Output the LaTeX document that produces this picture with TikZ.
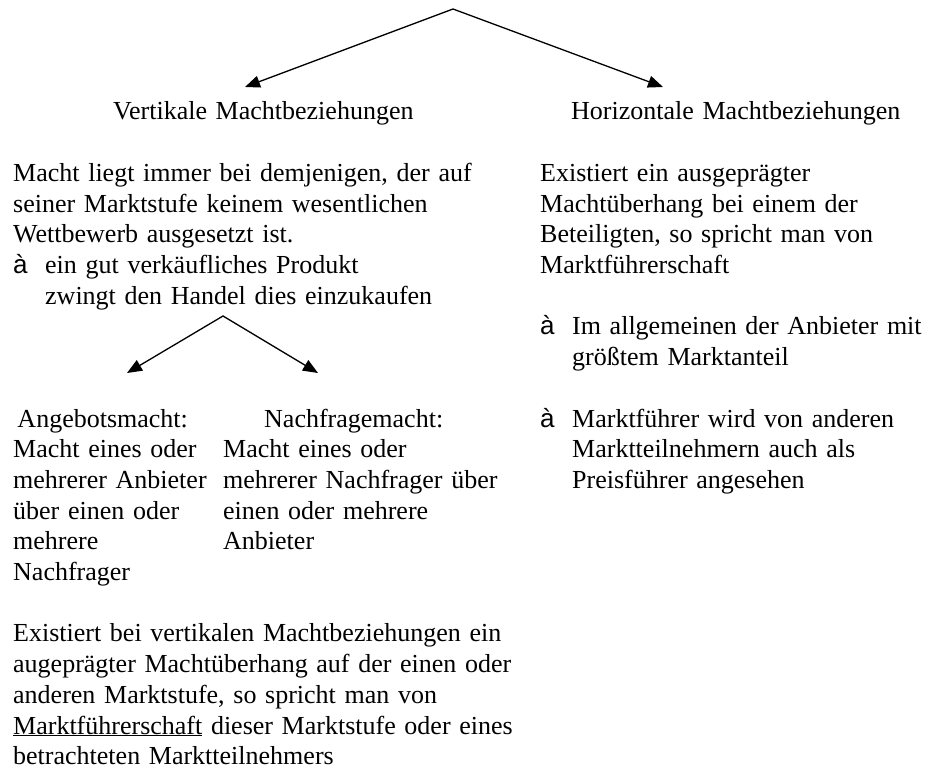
\documentclass[tikz,border=0pt]{standalone}
\usepackage{fontspec}
\setmainfont{Liberation Serif}
\newfontfamily\arrowfont{Liberation Sans}
\usetikzlibrary{positioning,arrows.meta}
\newcommand{\pfeil}{\makebox[32pt][l]{\arrowfont à}}
\newcommand{\einzug}{\hspace*{32pt}}

\begin{document}
\begin{tikzpicture}[
      x=1pt, y=-1pt,
      txt/.style={anchor=base west, inner sep=0pt, align=left, text width=560pt, font=\fontsize{26}{30.7}\selectfont},
      fork/.style={{Triangle[length=15pt, width=12pt]}-{Triangle[length=15pt, width=12pt]}, line width=1.3pt}
    ]
    \useasboundingbox (0,0) rectangle (930,768);
    % top fork
    \coordinate (top) at (453,9);
    \coordinate (vtip) at (245,87);
    \coordinate (htip) at (663,87);
    \draw[fork] (vtip) -- (top) -- (htip);
    \node[txt] (vhead) at (113,120) {Vertikale Machtbeziehungen};
    \node[txt] (hhead) at (571,120) {Horizontale Machtbeziehungen};
    % left column
    \node[txt] (vtext) at (13,181.4) {Macht liegt immer bei demjenigen, der auf\\
      seiner Marktstufe keinem wesentlichen\\
      Wettbewerb ausgesetzt ist.\\
      \pfeil ein gut verkäufliches Produkt\\
      \einzug zwingt den Handel dies einzukaufen};
    \coordinate (split) at (223,316);
    \coordinate (atip) at (127,373);
    \coordinate (ntip) at (318,373);
    \draw[fork] (atip) -- (split) -- (ntip);
    \node[txt] (angebot) at (13,427) {\makebox[179pt]{Angebotsmacht:}\\
      Macht eines oder\\
      mehrerer Anbieter\\
      über einen oder\\
      mehrere\\
      Nachfrager};
    \node[txt] (nachfrage) at (223,427) {\makebox[261pt]{Nachfragemacht:}\\
      Macht eines oder\\
      mehrerer Nachfrager über\\
      einen oder mehrere\\
      Anbieter};
    \node[txt] (fazit) at (13,641.9) {Existiert bei vertikalen Machtbeziehungen ein\\
      augeprägter Machtüberhang auf der einen oder\\
      anderen Marktstufe, so spricht man von\\
      \underline{Marktführerschaft} dieser Marktstufe oder eines\\
      betrachteten Marktteilnehmers};
    % right column
    \node[txt] (htext) at (540,181.4) {Existiert ein ausgeprägter\\
      Machtüberhang bei einem der\\
      Beteiligten, so spricht man von\\
      Marktführerschaft};
    \node[txt] (anteil) at (540,334.9) {\pfeil Im allgemeinen der Anbieter mit\\
      \einzug größtem Marktanteil};
    \node[txt] (preis) at (540,427) {\pfeil Marktführer wird von anderen\\
      \einzug Marktteilnehmern auch als\\
      \einzug Preisführer angesehen};
  \end{tikzpicture}
\end{document}
